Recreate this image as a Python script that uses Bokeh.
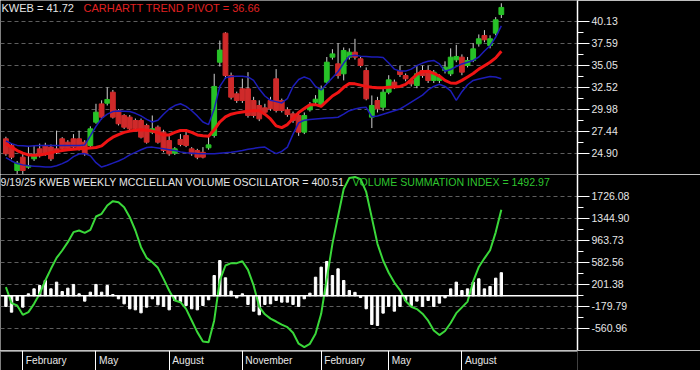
import pandas as pd
from bokeh.plotting import figure
from bokeh.models import (ColumnDataSource, Range1d, FixedTicker, NumeralTickFormatter,
                          Label, Span, Grid)
from bokeh.layouts import column
from bokeh.embed import file_html
from bokeh.resources import INLINE
from bokeh.core.properties import value

# ---------------- data ----------------
dates = pd.date_range("2024-01-12", "2025-09-19", freq="W-FRI")

opens = [26.56, 25.79, 22.90, 24.44, 23.29, 24.25, 25.40, 25.80, 25.60, 25.40,
         26.56, 26.17, 26.56, 26.56, 26.17, 25.79, 28.48, 30.59, 30.67, 31.94,
         29.83, 29.25, 29.06, 28.67, 28.67, 28.10, 27.33, 27.90, 27.33, 26.36,
         24.90, 26.48, 26.94, 25.40, 25.21, 25.00, 25.52, 26.94, 35.40, 38.75,
         33.86, 31.75, 32.33, 32.33, 30.98, 30.40, 30.13, 30.98, 33.48, 30.98,
         29.90, 29.44, 29.25, 27.33, 29.90, 30.79, 30.40, 33.10, 35.98, 35.21,
         34.06, 35.98, 36.56, 35.79, 34.44, 29.06, 30.98, 30.21, 31.94, 33.10,
         34.36, 33.86, 33.29, 32.71, 34.44, 34.44, 33.29, 33.29, 34.44, 34.06,
         35.67, 35.98, 35.02, 35.60, 37.52, 38.48, 37.33, 38.75, 40.90]
highs = [26.80, 26.00, 24.00, 25.00, 25.60, 25.80, 26.00, 26.10, 25.90, 27.50,
         26.75, 26.40, 27.10, 27.50, 26.40, 28.00, 30.60, 31.00, 32.50, 32.20,
         30.00, 29.40, 29.30, 28.90, 28.90, 28.30, 29.25, 28.10, 27.60, 26.90,
         25.60, 27.10, 27.50, 25.60, 25.40, 25.60, 26.94, 34.06, 37.90, 38.86,
         34.20, 32.00, 33.50, 34.25, 31.40, 31.00, 30.60, 31.40, 34.60, 31.20,
         30.20, 29.70, 29.50, 29.60, 30.80, 31.60, 32.70, 36.00, 36.90, 37.60,
         37.10, 37.00, 38.10, 36.00, 34.80, 31.56, 31.40, 32.30, 33.90, 33.40,
         35.00, 34.10, 33.60, 35.00, 35.00, 35.00, 34.50, 34.00, 35.50, 37.00,
         37.40, 36.30, 36.00, 37.60, 38.60, 39.10, 38.50, 40.60, 42.20]
lows = [24.60, 24.20, 22.50, 22.44, 23.10, 24.00, 24.40, 24.60, 24.00, 24.80,
        25.20, 25.20, 25.40, 25.20, 24.60, 25.60, 28.30, 28.80, 30.40, 28.90,
        28.10, 27.70, 27.50, 27.50, 26.60, 26.00, 27.10, 26.00, 25.00, 24.60,
        24.70, 25.70, 25.60, 24.60, 24.20, 24.30, 25.30, 26.70, 34.90, 33.50,
        31.10, 30.70, 30.70, 29.00, 29.00, 28.60, 29.40, 29.80, 29.60, 29.60,
        29.10, 28.40, 26.90, 27.10, 29.70, 30.50, 30.20, 32.90, 35.70, 33.50,
        33.30, 35.70, 35.70, 34.80, 31.00, 27.80, 29.60, 29.80, 31.70, 32.30,
        33.70, 33.20, 32.60, 32.40, 33.60, 33.00, 33.00, 33.00, 34.10, 33.80,
        35.40, 33.90, 34.80, 35.40, 37.20, 37.70, 37.00, 38.50, 40.50]
closes = [24.83, 24.44, 23.75, 22.90, 23.48, 24.63, 24.63, 24.83, 24.25, 25.00,
          25.40, 25.40, 25.60, 25.40, 24.83, 27.71, 29.63, 29.06, 31.10, 29.06,
          28.29, 27.90, 27.71, 27.71, 26.75, 26.17, 27.71, 26.17, 25.21, 24.83,
          25.40, 25.90, 25.79, 24.83, 24.44, 24.44, 25.86, 32.60, 36.80, 33.86,
          31.36, 30.98, 30.98, 29.25, 29.25, 28.86, 29.63, 30.02, 29.83, 29.83,
          29.36, 28.67, 27.33, 29.25, 30.40, 31.13, 32.33, 35.40, 36.36, 33.86,
          36.75, 36.56, 35.98, 35.02, 31.17, 30.40, 30.02, 31.94, 33.36, 32.60,
          33.98, 33.48, 32.90, 34.06, 33.86, 33.29, 34.25, 33.67, 34.83, 35.98,
          36.06, 34.25, 35.60, 36.94, 38.10, 37.98, 38.10, 40.29, 41.72]
trend_pivot = [26.00, 25.60, 25.20, 24.90, 24.70, 24.65, 24.70, 24.80, 24.95, 25.10,
               25.20, 25.30, 25.35, 25.40, 25.45, 25.50, 25.55, 25.75, 26.30, 26.75,
               27.05, 27.30, 27.45, 27.55, 27.60, 27.55, 27.45, 27.25, 27.00, 27.00,
               27.30, 27.52, 27.52, 27.30, 27.00, 26.90, 26.85, 27.60, 28.50, 29.10,
               29.40, 29.55, 29.65, 29.75, 29.80, 29.80, 29.40, 28.85, 28.05, 27.85,
               28.20, 28.90, 29.60, 30.05, 30.50, 30.50, 30.30, 30.90, 31.50, 31.90,
               32.50, 32.95, 32.90, 32.75, 32.60, 32.50, 32.45, 32.44, 32.50, 32.55,
               32.60, 32.85, 33.40, 34.00, 34.30, 34.35, 34.10, 33.80, 33.30, 33.00,
               32.98, 33.30, 33.70, 34.10, 34.60, 35.00, 35.40, 35.90, 36.66]
upper_band = [26.30, 26.00, 25.80, 25.75, 25.70, 25.75, 25.80, 25.80, 25.80, 25.80,
              25.80, 25.80, 25.80, 25.80, 25.85, 26.90, 28.00, 28.90, 29.40, 29.70,
              29.78, 29.75, 29.70, 29.50, 29.20, 28.80, 28.50, 28.70, 29.40, 30.00,
              30.40, 30.60, 30.30, 29.80, 29.20, 28.50, 28.20, 30.00, 32.60, 33.60,
              33.75, 33.78, 33.78, 33.70, 33.30, 32.30, 31.50, 31.00, 30.85, 30.70,
              31.20, 32.60, 33.40, 33.70, 33.45, 32.60, 32.20, 32.90, 33.60, 34.30,
              35.30, 36.10, 36.20, 36.10, 36.05, 36.00, 36.00, 35.95, 35.30, 34.60,
              34.37, 34.37, 34.60, 35.00, 35.30, 35.50, 35.60, 35.20, 34.35, 34.55,
              34.90, 35.20, 35.40, 35.60, 36.00, 36.70, 37.30, 38.30, 39.60]
lower_band = [24.40, 24.00, 23.70, 23.55, 23.45, 23.40, 23.35, 23.30, 23.30, 23.45,
              23.70, 24.00, 24.50, 24.80, 24.85, 24.60, 23.80, 23.30, 23.50, 23.75,
              24.00, 24.30, 24.70, 25.00, 25.30, 25.55, 25.60, 25.50, 25.40, 25.30,
              25.20, 25.05, 24.95, 24.90, 24.85, 24.83, 24.83, 24.83, 24.90, 24.95,
              25.00, 25.10, 25.20, 25.35, 25.45, 25.55, 25.60, 25.20, 24.85, 25.10,
              25.60, 27.10, 28.40, 28.70, 28.80, 28.85, 28.90, 28.95, 29.00, 29.05,
              29.40, 29.80, 30.00, 30.15, 30.20, 29.10, 29.20, 29.40, 29.60, 29.80,
              30.00, 30.40, 30.80, 31.20, 31.60, 32.20, 32.60, 32.85, 32.60, 32.10,
              31.00, 32.00, 32.80, 33.30, 33.45, 33.60, 33.75, 33.70, 33.50]
volume_oscillator = [-185, -283, -81, -196, 35, 121, 179, 266, 121, 237,
                     75, 133, 197, 35, -92, 63, 197, 63, 179, 23,
                     -52, -139, -225, -243, -295, -196, -52, -156, -185, -243,
                     -81, -110, -168, -225, -243, -168, -69, 352, 612, 312,
                     81, -35, 35, -150, -266, -329, -150, -139, -81, -110,
                     -110, -150, -185, -52, 46, 323, 497, 595, 352, 468,
                     266, 92, 60, -30, -225, -497, -514, -300, -185, -266,
                     -185, -81, -168, -92, -185, -81, -185, -127, -35, 121,
                     237, 92, 121, 237, 295, 121, 162, 306, 400.51]
summation_index = [150, -127, -168, -329, -283, -139, 35, 266, 468, 658,
                   785, 930, 1103, 1132, 1091, 1143, 1374, 1421, 1565, 1640,
                   1623, 1536, 1363, 1132, 843, 658, 583, 485, 294, 92,
                   -81, -110, -225, -427, -629, -791, -803, -427, 266, 525,
                   566, 566, 600, 450, 180, -190, -320, -395, -445, -500,
                   -543, -640, -830, -889, -832, -658, -312, 300, 900, 1380,
                   1850, 2040, 2060, 2020, 1800, 1350, 901, 612, 400, 230,
                   100, -90, -190, -230, -310, -430, -600, -680, -610, -470,
                   -300, -200, -100, 250, 500, 650, 790, 1100, 1492.97]

price_ticks = [24.90, 27.44, 29.98, 32.52, 35.05, 37.59, 40.13]
osc_ticks = [-560.96, -179.79, 201.38, 582.56, 963.73, 1344.90, 1726.08]
month_names = {2: "February", 5: "May", 8: "August", 11: "November"}

title_price = "KWEB = 41.72"
title_pivot = "CARHARTT TREND PIVOT = 36.66"
title_osc = "9/19/25  KWEB WEEKLY MCCLELLAN VOLUME OSCILLATOR = 400.51"
title_sum = "VOLUME SUMMATION INDEX = 1492.97"

# ---------------- helpers ----------------
WEEK = 7 * 24 * 3600 * 1000
x_ms = ((dates - pd.Timestamp("1970-01-01")) / pd.Timedelta(milliseconds=1)).to_numpy()
x_start = x_ms[0] - 0.96 * WEEK
x_end = x_ms[0] + 101.53 * WEEK

FRAME_W = 577
RIGHT_W = 123
TOTAL_W = FRAME_W + RIGHT_W
FONT = "Liberation Sans"
TXT = "#e6e6e6"

sep_x, sep_lbl = [], []
for k in range(1, len(dates)):
    m = dates[k].month
    if m != dates[k - 1].month and m in month_names:
        sep_x.append(x_ms[k])
        sep_lbl.append(month_names[m])


def mids(t):
    return [(a + b) / 2 for a, b in zip(t[:-1], t[1:])]


def make_panel(height, yr, ticks):
    p = figure(width=TOTAL_W, height=height, x_range=Range1d(x_start, x_end),
               y_range=Range1d(*yr), output_backend="svg", toolbar_location=None,
               title=None, x_axis_location=None, y_axis_location="right",
               background_fill_color="black", border_fill_color="black",
               outline_line_color=None, min_border=0, min_border_right=RIGHT_W)
    ax = p.yaxis[0]
    ax.ticker = FixedTicker(ticks=ticks, minor_ticks=mids(ticks))
    ax.formatter = NumeralTickFormatter(format="0.00")
    ax.axis_line_color = "white"
    ax.axis_line_width = 1.5
    ax.major_tick_line_color = "white"
    ax.major_tick_out = 12
    ax.major_tick_in = 0
    ax.minor_tick_line_color = "white"
    ax.minor_tick_out = 6
    ax.minor_tick_in = 0
    ax.major_label_standoff = 2
    ax.major_label_text_color = TXT
    ax.major_label_text_font = FONT
    ax.major_label_text_font_size = "10.5px"
    p.xgrid.visible = False
    p.ygrid.ticker = FixedTicker(ticks=ticks)
    p.ygrid.grid_line_color = "#5e5e5e"
    p.ygrid.grid_line_dash = "4 3"
    p.ygrid.grid_line_width = 1
    return p


# ---------------- price panel ----------------
p1 = make_panel(174, (22.44, 42.52), price_ticks)
src = ColumnDataSource(dict(
    x=x_ms, o=opens, h=highs, l=lows, c=closes,
    top=[max(a, b) for a, b in zip(opens, closes)],
    bot=[min(a, b) for a, b in zip(opens, closes)],
    col=["#27c227" if c >= o else "#cf2a2a" for o, c in zip(opens, closes)],
    piv=trend_pivot, up=upper_band, lo=lower_band))
p1.segment(x0="x", y0="h", x1="x", y1="l", source=src, line_color="#d0d0d0", line_width=1)
p1.vbar(x="x", top="top", bottom="bot", width=0.85 * WEEK, source=src,
        fill_color="col", line_color="col")
p1.line("x", "up", source=src, line_color="#1d1db8", line_width=1.5)
p1.line("x", "lo", source=src, line_color="#1d1db8", line_width=1.5)
p1.line("x", "piv", source=src, line_color="#f01414", line_width=3)
p1.add_layout(Label(x=1, y=173, x_units="screen", y_units="screen", text=title_price,
                    text_baseline="top", text_color=TXT, text_font=FONT,
                    text_font_size="11px"))
p1.add_layout(Label(x=83, y=173, x_units="screen", y_units="screen", text=title_pivot,
                    text_baseline="top", text_color="#e02020", text_font=FONT,
                    text_font_size="11px"))

# ---------------- oscillator panel ----------------
p2 = make_panel(176, (-947.3, 2102.0), osc_ticks)
src2 = ColumnDataSource(dict(x=x_ms, v=volume_oscillator, s=summation_index))
p2.vbar(x="x", top="v", bottom=0, width=0.42 * WEEK, source=src2,
        fill_color="white", line_color="white")
p2.add_layout(Span(location=0, dimension="width", line_color="white", line_width=1.5))
p2.line("x", "s", source=src2, line_color="#3ad83a", line_width=2)
p2.add_layout(Label(x=0, y=175, x_units="screen", y_units="screen", text=title_osc,
                    text_baseline="top", text_color=TXT, text_font=FONT,
                    text_font_size="10.6px"))
p2.add_layout(Label(x=352, y=175, x_units="screen", y_units="screen", text=title_sum,
                    text_baseline="top", text_color="#2fc42f", text_font=FONT,
                    text_font_size="10.6px"))

# ---------------- month band ----------------
p3 = figure(width=TOTAL_W, height=20, x_range=Range1d(x_start, x_end),
            y_range=Range1d(0, 1), output_backend="svg", toolbar_location=None,
            title=None, x_axis_location=None, y_axis_location=None,
            background_fill_color="black", border_fill_color="black",
            outline_line_color=None, min_border=0, min_border_right=RIGHT_W)
p3.grid.visible = False
p3.add_layout(Grid(dimension=0, ticker=FixedTicker(ticks=sep_x),
                   grid_line_color="white", grid_line_width=1))
p3.add_layout(Span(location=1, dimension="width", line_color="white", line_width=2))
p3.text(x=sep_x, y=0.48, text=sep_lbl, x_offset=3, text_align="left",
        text_baseline="middle", text_color=TXT, text_font=value(FONT),
        text_font_size="10.2px")

layout = column(p1, p2, p3, spacing=0)
open("out.html", "w").write(file_html(layout, INLINE))
